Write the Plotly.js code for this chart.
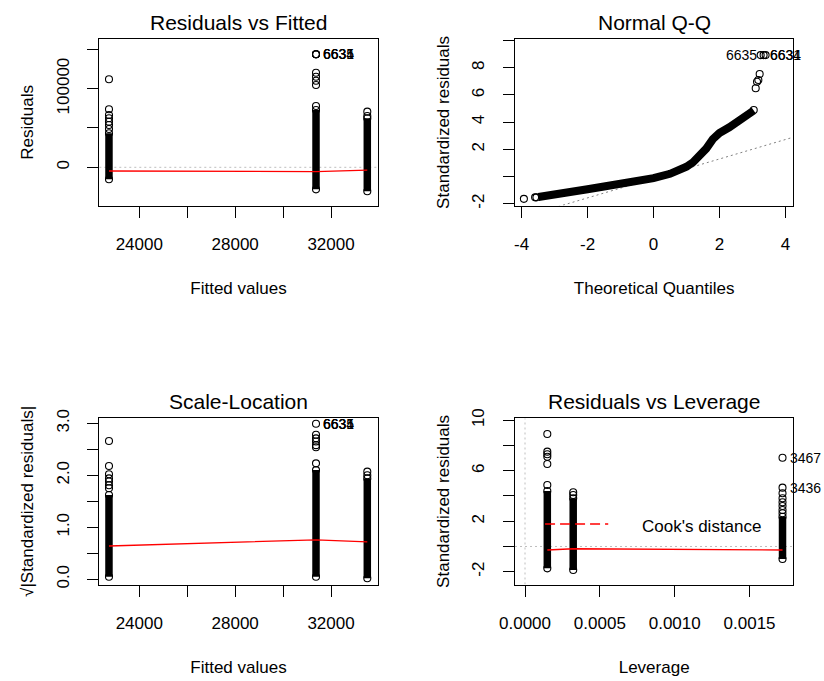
<!DOCTYPE html>
<html><head><meta charset="utf-8">
<script src="https://cdn.plot.ly/plotly-3.0.1.min.js"></script>
<style>html,body{margin:0;padding:0;background:#fff}#chart{width:824px;height:681px}</style>
</head><body><div id="chart"></div>
<script>
// ---------- Panel 1: Residuals vs Fitted ----------
const fittedLevels = [22735, 31374, 33514];
const residDenseLow = [-15200, -28000, -30500];
const residDenseHigh = [43200, 72800, 62300];
const residOutX = [22735, 22735, 22735, 22735, 22735, 22735, 22735, 31374, 31374, 31374, 31374, 31374, 31374, 33514, 33514];
const residOutY = [111800, 73700, 66500, 62300, 58000, 53800, 48700, 143600, 120200, 115100, 110000, 104600, 77900, 70700, 65200];
const residSmoothY = [-4700, -5500, -3500];
const residIdLabels = ["6635", "6634", "6631"];
const residIdY = [143600, 143600, 143600];
const p1XTicks = [24000, 26000, 28000, 30000, 32000];
const p1XTickText = ["24000", "", "28000", "", "32000"];
const p1YTicks = [0, 50000, 100000, 150000];
const p1YTickText = ["0", "", "100000", ""];

// ---------- Panel 2: Normal Q-Q ----------
const qqBandX = [-3.49, -3.0, -2.5, -2.0, -1.5, -1.0, -0.5, 0, 0.5, 0.75, 1.0, 1.2, 1.4, 1.6, 1.8, 2.0, 2.3, 2.6, 2.9, 3.04];
const qqBandY = [-1.50, -1.27, -1.10, -0.93, -0.73, -0.54, -0.33, -0.12, 0.20, 0.42, 0.72, 1.05, 1.50, 2.05, 2.75, 3.20, 3.62, 4.08, 4.55, 4.85];
const qqOutX = [-3.93, -3.59, -3.55, 3.04, 3.10, 3.14, 3.18, 3.22, 3.25, 3.34, 3.40];
const qqOutY = [-1.64, -1.53, -1.53, 4.89, 6.49, 6.97, 7.10, 7.54, 8.93, 8.93, 8.93];
const qqIdLabels = ["6635", "6634", "6631"];
const qqIdX = [3.25, 3.34, 3.40];
const qqIdY = [8.93, 8.93, 8.93];
const qqLineIntercept = -0.14;
const qqLineSlope = 0.715;
const p2XTicks = [-4, -2, 0, 2, 4];
const p2XTickText = ["-4", "-2", "0", "2", "4"];
const p2YTicks = [-2, 0, 2, 4, 6, 8, 10];
const p2YTickText = ["-2", "", "2", "4", "6", "8", ""];

// ---------- Panel 3: Scale-Location ----------
const slDenseLow = [0.05, 0.05, 0.02];
const slDenseHigh = [1.62, 2.10, 1.94];
const slOutX = [22735, 22735, 22735, 22735, 22735, 22735, 22735, 31374, 31374, 31374, 31374, 31374, 31374, 31374, 33514, 33514];
const slOutY = [2.66, 2.18, 2.02, 1.94, 1.88, 1.81, 1.75, 2.99, 2.78, 2.71, 2.65, 2.58, 2.54, 2.23, 2.07, 2.00];
const slSmoothY = [0.64, 0.76, 0.72];
const slIdY = [2.99, 2.99, 2.99];
const p3YTicks = [0, 0.5, 1, 1.5, 2, 2.5, 3];
const p3YTickText = ["0.0", "", "1.0", "", "2.0", "", "3.0"];

// ---------- Panel 4: Residuals vs Leverage ----------
const levLevels = [0.000149, 0.000322, 0.00172];
const levDenseLow = [-1.73, -1.86, -0.99];
const levDenseHigh = [4.39, 3.81, 2.36];
const levOutX = [0.000149, 0.000149, 0.000149, 0.000149, 0.000149, 0.000149, 0.000322, 0.000322, 0.00172, 0.00172, 0.00172, 0.00172, 0.00172, 0.00172, 0.00172, 0.00172];
const levOutY = [8.91, 7.51, 7.30, 7.11, 6.53, 4.87, 4.29, 4.08, 7.03, 4.66, 4.21, 3.82, 3.50, 3.21, 2.89, 2.63];
const levSmoothY = [-0.28, -0.18, -0.28];
const levIdLabels = ["3467", "3436"];
const levIdX = [0.00172, 0.00172];
const levIdY = [7.03, 4.66];
const p4XTicks = [0, 0.0005, 0.001, 0.0015];
const p4XTickText = ["0.0000", "0.0005", "0.0010", "0.0015"];
const p4YTicks = [-2, 0, 2, 4, 6, 8, 10];
const p4YTickText = ["-2", "", "2", "", "6", "", "10"];

// ---------- drawing ----------
const FONT = "Liberation Sans, Arial, sans-serif";
const traces = [];
const circ = {symbol: "circle-open", size: 7, color: "#000", line: {width: 1.1, color: "#000"}};

function columns(xs, lo, hi, xa, ya) {
  for (let i = 0; i < xs.length; i++) {
    traces.push({x: [xs[i], xs[i]], y: [lo[i], hi[i]], xaxis: xa, yaxis: ya, type: "scatter",
      mode: "lines+markers", line: {color: "#000", width: 7.5}, marker: circ, hoverinfo: "skip"});
  }
}
function points(xs, ys, xa, ya) {
  traces.push({x: xs, y: ys, xaxis: xa, yaxis: ya, type: "scatter", mode: "markers", marker: circ, hoverinfo: "skip"});
}
function redLine(xs, ys, xa, ya) {
  traces.push({x: xs, y: ys, xaxis: xa, yaxis: ya, type: "scatter", mode: "lines", line: {color: "#FF0000", width: 1.3}, hoverinfo: "skip"});
}

// P1
traces.push({x: [22331, 33948], y: [0, 0], xaxis: "x", yaxis: "y", type: "scatter", mode: "lines", line: {color: "#BEBEBE", width: 1, dash: "2px,3px"}, hoverinfo: "skip"});
columns(fittedLevels, residDenseLow, residDenseHigh, "x", "y");
points(residOutX, residOutY, "x", "y");
points([fittedLevels[1], fittedLevels[1], fittedLevels[1]], residIdY, "x", "y");
redLine(fittedLevels, residSmoothY, "x", "y");

// P2
const qqR = [-4.20, 4.24];
traces.push({x: qqR, y: qqR.map(v => qqLineIntercept + qqLineSlope * v), xaxis: "x2", yaxis: "y2", type: "scatter", mode: "lines", line: {color: "#808080", width: 1, dash: "2px,3px"}, hoverinfo: "skip"});
traces.push({x: qqBandX, y: qqBandY, xaxis: "x2", yaxis: "y2", type: "scatter", mode: "lines", line: {color: "#000", width: 8}, hoverinfo: "skip"});
points(qqOutX, qqOutY, "x2", "y2");

// P3
columns(fittedLevels, slDenseLow, slDenseHigh, "x3", "y3");
points(slOutX, slOutY, "x3", "y3");
redLine(fittedLevels, slSmoothY, "x3", "y3");

// P4
traces.push({x: [-0.0000668, 0.001792], y: [0, 0], xaxis: "x4", yaxis: "y4", type: "scatter", mode: "lines", line: {color: "#BEBEBE", width: 1, dash: "2px,3px"}, hoverinfo: "skip"});
traces.push({x: [0, 0], y: [-3.01, 10.15], xaxis: "x4", yaxis: "y4", type: "scatter", mode: "lines", line: {color: "#BEBEBE", width: 1, dash: "2px,3px"}, hoverinfo: "skip"});
columns(levLevels, levDenseLow, levDenseHigh, "x4", "y4");
points(levOutX, levOutY, "x4", "y4");
redLine(levLevels, levSmoothY, "x4", "y4");

function axis(domain, range, tv, tt, anchor, title, angle, standoff, tlso) {
  return {domain: domain, range: range, autorange: false, anchor: anchor,
    tickmode: "array", tickvals: tv, ticktext: tt, tickangle: angle,
    ticks: "outside", ticklen: 11, tickwidth: 1, tickcolor: "#000",
    showline: true, mirror: true, linecolor: "#000", linewidth: 1,
    showgrid: false, zeroline: false, automargin: false,
    ticklabelstandoff: tlso,
    tickfont: {family: FONT, size: 17, color: "#000"},
    title: {text: title, font: {family: FONT, size: 17, color: "#000"}, standoff: standoff}};
}

const dxL = [99.3 / 824, 377.7 / 824], dxR = [515 / 824, 793.3 / 824];
const dyT = [1 - 205.5 / 681, 1 - 39.3 / 681], dyB = [1 - 584.5 / 681, 1 - 418.3 / 681];

const annotations = [];
function ann(text, x, y, size, xref, yref, xanchor, extra) {
  annotations.push(Object.assign({text: text, x: x, y: y, xref: xref, yref: yref, xanchor: xanchor, yanchor: "middle",
    showarrow: false, font: {family: FONT, size: size, color: "#000"}}, extra || {}));
}
// panel titles
ann("Residuals vs Fitted", (99.3 + 377.7) / 2 / 824, 1 - 22.7 / 681, 21, "paper", "paper", "center");
ann("Normal Q-Q", (515 + 793.3) / 2 / 824, 1 - 22.7 / 681, 21, "paper", "paper", "center");
ann("Scale-Location", (99.3 + 377.7) / 2 / 824, 1 - 401.7 / 681, 21, "paper", "paper", "center");
ann("Residuals vs Leverage", (515 + 793.3) / 2 / 824, 1 - 401.7 / 681, 21, "paper", "paper", "center");
// id labels
residIdLabels.forEach((t, i) => ann(t, fittedLevels[1], residIdY[i], 14, "x", "y", "left", {xshift: 5}));
residIdLabels.forEach((t, i) => ann(t, fittedLevels[1], slIdY[i], 14, "x3", "y3", "left", {xshift: 5}));
ann(qqIdLabels[0], qqIdX[0], qqIdY[0], 14, "x2", "y2", "right", {xshift: -2});
ann(qqIdLabels[1], qqIdX[1], qqIdY[1], 14, "x2", "y2", "left", {xshift: 4});
ann(qqIdLabels[2], qqIdX[2], qqIdY[2], 14, "x2", "y2", "left", {xshift: 2});
levIdLabels.forEach((t, i) => ann(t, levIdX[i], levIdY[i], 14, "x4", "y4", "left", {xshift: 5}));
// Cook's distance legend
ann("Cook's distance", 0.448, 0.348, 17, "x4 domain", "y4 domain", "left");

const layout = {
  width: 824, height: 681, margin: {l: 0, r: 0, t: 0, b: 0},
  paper_bgcolor: "#fff", plot_bgcolor: "#fff", showlegend: false,
  font: {family: FONT, color: "#000"},
  xaxis: axis(dxL, [22331, 33948], p1XTicks, p1XTickText, "y", "Fitted values", 0, 29, 12),
  yaxis: axis(dyT, [-48540, 162640], p1YTicks, p1YTickText, "x", "Residuals", -90, 15, 12),
  xaxis2: axis(dxR, [-4.20, 4.24], p2XTicks, p2XTickText, "y2", "Theoretical Quantiles", 0, 29, 12),
  yaxis2: axis(dyT, [-2.13, 10.09], p2YTicks, p2YTickText, "x2", "Standardized residuals", -90, 15, 12),
  xaxis3: axis(dxL, [22331, 33948], p1XTicks, p1XTickText, "y3", "Fitted values", 0, 29, 12),
  yaxis3: axis(dyB, [-0.1, 3.096], p3YTicks, p3YTickText, "x3", "√|Standardized residuals|", -90, 15, 12),
  xaxis4: axis(dxR, [-0.0000668, 0.001792], p4XTicks, p4XTickText, "y4", "Leverage", 0, 29, 12),
  yaxis4: axis(dyB, [-3.01, 10.15], p4YTicks, p4YTickText, "x4", "Standardized residuals", -90, 15, 12),
  annotations: annotations,
  shapes: [{type: "line", xref: "x4 domain", yref: "y4 domain", x0: 0.108, x1: 0.335, y0: 0.364, y1: 0.364,
    line: {color: "#FF0000", width: 1.3, dash: "10px,5px"}}]
};
Plotly.newPlot("chart", traces, layout, {staticPlot: true, displayModeBar: false});
</script>
</body></html>
